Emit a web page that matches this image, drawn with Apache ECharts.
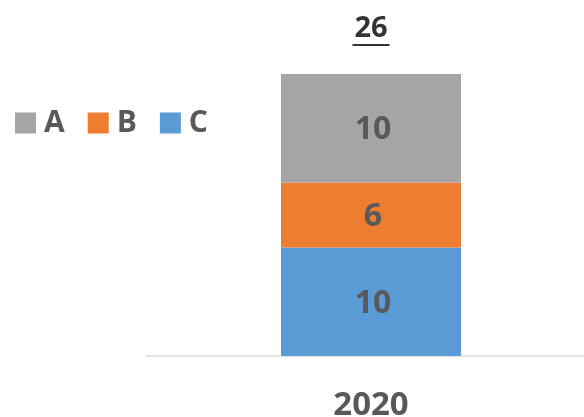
<!DOCTYPE html>
<html>
<head>
<meta charset="utf-8">
<script src="https://cdn.jsdelivr.net/npm/echarts@6/dist/echarts.min.js"></script>
<style>
html,body{margin:0;padding:0;background:#fff;}
#main{width:584px;height:417px;}
</style>
</head>
<body>
<div id="main"></div>
<script>
var categories = ['2020'];
var valuesA = [10];
var valuesB = [6];
var valuesC = [10];
var legendNames = ['A', 'B', 'C'];

var totals = categories.map(function (c, i) { return valuesA[i] + valuesB[i] + valuesC[i]; });

var FONT = 'Open Sans';
var TXT = '#595959';

var chart = echarts.init(document.getElementById('main'), null, {renderer: 'canvas'});

function barLabel() {
  return {
    show: true,
    position: 'inside',
    offset: [2, 2],
    fontFamily: FONT,
    fontWeight: 'bold',
    fontSize: 32,
    color: TXT
  };
}

chart.setOption({
  animation: false,
  backgroundColor: '#ffffff',
  legend: {
    data: legendNames,
    left: 10,
    top: 103,
    icon: 'rect',
    itemWidth: 21,
    itemHeight: 21,
    itemGap: 23,
    textStyle: {
      fontFamily: FONT,
      fontWeight: 'bold',
      fontSize: 30,
      color: TXT,
      padding: [2, 0, 0, 3]
    }
  },
  grid: {left: 146, width: 450, top: 74, bottom: 61, containLabel: false, outerBoundsMode: 'none'},
  xAxis: {
    type: 'category',
    data: categories,
    axisLine: {show: true, lineStyle: {color: '#d9d9d9', width: 1.5}},
    axisTick: {show: false},
    axisLabel: {
      margin: 33,
      fontFamily: FONT,
      fontWeight: 'bold',
      fontSize: 33,
      color: TXT
    }
  },
  yAxis: {
    type: 'value',
    min: 0,
    max: 26,
    show: false,
    splitLine: {show: false}
  },
  series: [
    {name: 'C', type: 'bar', stack: 'total', data: valuesC, barWidth: 180,
     itemStyle: {color: '#5b9bd5'}, label: barLabel()},
    {name: 'B', type: 'bar', stack: 'total', data: valuesB, barWidth: 180,
     itemStyle: {color: '#ed7d31'}, label: barLabel()},
    {name: 'A', type: 'bar', stack: 'total', data: valuesA, barWidth: 180,
     itemStyle: {color: '#a5a5a5'}, label: barLabel()},
    {name: 'Total', type: 'scatter', data: totals, symbolSize: 0,
     silent: true,
     label: {
       show: true,
       position: 'top',
       distance: 28,
       formatter: function (p) { return '{t|' + p.value + '}\n{u|}'; },
       rich: {
         t: {fontFamily: FONT, fontWeight: 'bold', fontSize: 29, color: '#000', lineHeight: 31, align: 'center'},
         u: {width: 37, height: 2, backgroundColor: '#000', align: 'center'}
       }
     }}
  ]
});
</script>
</body>
</html>
